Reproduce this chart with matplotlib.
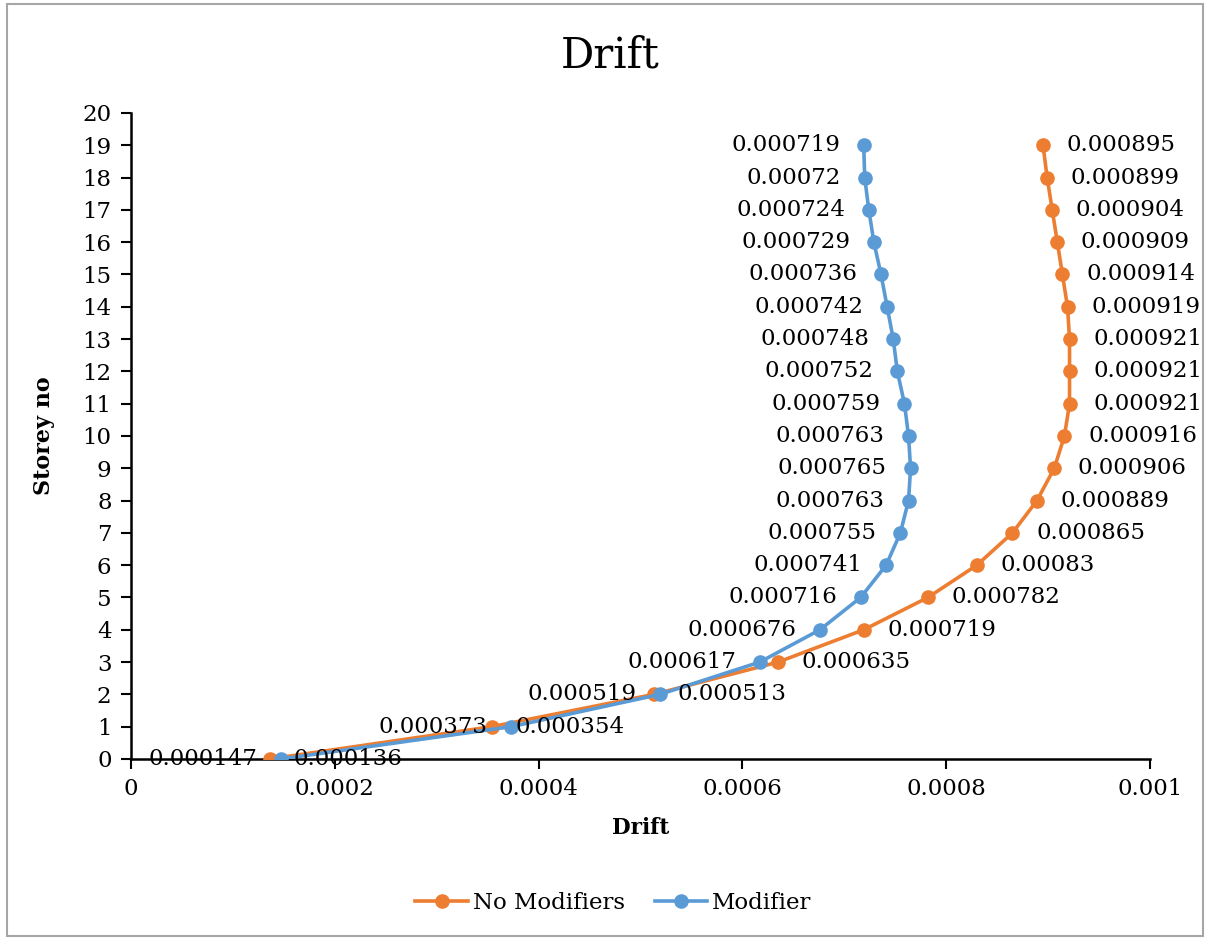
import matplotlib.pyplot as plt
from matplotlib.patches import Rectangle
from matplotlib.ticker import FuncFormatter

# Data
storeys = list(range(20))
no_modifiers = [0.000136, 0.000354, 0.000513, 0.000635, 0.000719, 0.000782, 0.00083,
                0.000865, 0.000889, 0.000906, 0.000916, 0.000921, 0.000921, 0.000921,
                0.000919, 0.000914, 0.000909, 0.000904, 0.000899, 0.000895]
modifier = [0.000147, 0.000373, 0.000519, 0.000617, 0.000676, 0.000716, 0.000741,
            0.000755, 0.000763, 0.000765, 0.000763, 0.000759, 0.000752, 0.000748,
            0.000742, 0.000736, 0.000729, 0.000724, 0.00072, 0.000719]
x_ticks = [0, 0.0002, 0.0004, 0.0006, 0.0008, 0.001]

orange = '#ED7D31'
blue = '#5B9BD5'

plt.rcParams['font.family'] = 'DejaVu Serif'

fig = plt.figure(figsize=(12.05, 9.39), dpi=100)
ax = fig.add_axes([0.1087, 0.1917, 0.8457, 0.688])

ax.plot(no_modifiers, storeys, color=orange, lw=2.6, marker='o', ms=9.5,
        label='No Modifiers', zorder=3)
ax.plot(modifier, storeys, color=blue, lw=2.6, marker='o', ms=9.5,
        label='Modifier', zorder=4)

# Data labels: orange to the right, blue to the left
for x, y in zip(no_modifiers, storeys):
    ax.annotate(f'{x:g}', (x, y), xytext=(17, 0), textcoords='offset points',
                ha='left', va='center', fontsize=16.5, zorder=5)
for x, y in zip(modifier, storeys):
    ax.annotate(f'{x:g}', (x, y), xytext=(-17, 0), textcoords='offset points',
                ha='right', va='center', fontsize=16.5, zorder=5)

ax.set_xlim(0, 0.001)
ax.set_ylim(0, 20)
ax.set_xticks(x_ticks)
ax.set_yticks(range(21))
ax.xaxis.set_major_formatter(FuncFormatter(lambda v, p: f'{v:g}'))
ax.tick_params(axis='both', direction='out', length=7, width=1.5, labelsize=16.5)
ax.tick_params(axis='x', pad=7)
ax.tick_params(axis='y', pad=7)

for s in ['top', 'right']:
    ax.spines[s].set_visible(False)
for s in ['left', 'bottom']:
    ax.spines[s].set_linewidth(1.8)
    ax.spines[s].set_color('black')

fig.text(0.506, 0.941, 'Drift', fontsize=30, ha='center', va='center')
ax.set_xlabel('Drift', fontsize=15.5, fontweight='bold', labelpad=12)
ax.set_ylabel('Storey no', fontsize=16, fontweight='bold', labelpad=20)

fig.legend(loc='center', bbox_to_anchor=(0.509, 0.038), ncol=2, frameon=False,
           fontsize=16.5, handlelength=2.3, columnspacing=1.3, handletextpad=0.2)

# Outer chart border
fig.patches.append(Rectangle((0.006, 0.003), 0.992, 0.993, transform=fig.transFigure,
                             fill=False, edgecolor='#A6A6A6', lw=1.5))

plt.savefig('out.png', dpi=100)
plt.close()
